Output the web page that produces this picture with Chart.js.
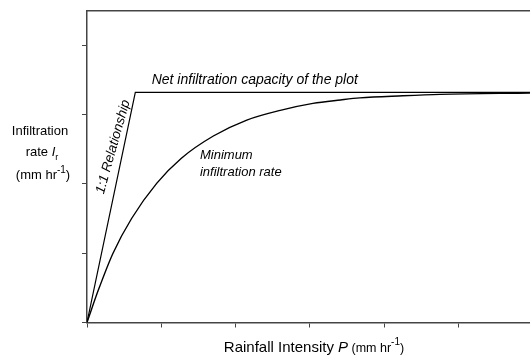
<!DOCTYPE html>
<html>
<head>
<meta charset="utf-8">
<script src="https://cdn.jsdelivr.net/npm/chart.js@4.4.1/dist/chart.umd.min.js"></script>
<style>
  body { margin: 0; background: #fff; }
  #grafico { display: block; }
</style>
</head>
<body>
<canvas id="grafico" width="530" height="358"></canvas>
<script>
// valori (unità arbitrarie)
const xTicks = [0, 1, 2, 3, 4, 5];
const yTicks = [0, 1, 2, 3, 4];
const xMax = 5.96;
const yMax = 4.5;

// retta 1:1 e capacità netta del plot
const capacitaX = [0, 0.65, 5.96];
const capacitaY = [0, 3.32, 3.32];

// curva del tasso minimo di infiltrazione
const minimaX = [0, 0.15, 0.35, 0.6, 0.94, 1.27, 1.70, 2.15, 2.60, 3.04, 3.41, 3.67, 4.25, 4.75, 5.96];
const minimaY = [0, 0.46, 1.00, 1.50, 2.01, 2.37, 2.69, 2.92, 3.06, 3.16, 3.21, 3.24, 3.27, 3.29, 3.31];

const FONT = '"Liberation Sans", Arial, sans-serif';
const assi = '#444';

function punti(xs, ys) {
    return xs.map((x, i) => ({ x: x, y: ys[i] }));
}

// disegna una riga di testo composta da pezzi con font/offset diversi
function scriviRiga(ctx, pezzi, x, y, allinea) {
    let larghezza = 0;
    pezzi.forEach(p => { ctx.font = p.font; larghezza += ctx.measureText(p.t).width; });
    let cx = allinea === 'center' ? x - larghezza / 2 : x;
    pezzi.forEach(p => {
        ctx.font = p.font;
        ctx.fillText(p.t, cx, y + (p.dy || 0));
        cx += ctx.measureText(p.t).width;
    });
}

const testi = {
    id: 'testi',
    afterDraw(chart) {
        const ctx = chart.ctx;
        const sx = chart.scales.x, sy = chart.scales.y;
        ctx.save();
        ctx.fillStyle = '#000';
        ctx.textBaseline = 'alphabetic';
        ctx.textAlign = 'left';

        // titolo asse y
        const n13 = '13px ' + FONT;
        scriviRiga(ctx, [{ t: 'Infiltration', font: n13 }], 40, 135, 'center');
        scriviRiga(ctx, [
            { t: 'rate ', font: n13 },
            { t: 'I', font: 'italic 13px ' + FONT },
            { t: 'r', font: '9px ' + FONT, dy: 4 }
        ], 42, 156, 'center');
        scriviRiga(ctx, [
            { t: '(mm hr', font: n13 },
            { t: '-1', font: '10px ' + FONT, dy: -6 },
            { t: ')', font: n13 }
        ], 43, 179, 'center');

        // titolo asse x
        scriviRiga(ctx, [
            { t: 'Rainfall Intensity ', font: '15px ' + FONT },
            { t: 'P', font: 'italic 15px ' + FONT },
            { t: ' (mm hr', font: '12.5px ' + FONT },
            { t: '-1', font: '10px ' + FONT, dy: -7 },
            { t: ')', font: '12.5px ' + FONT }
        ], 314, 352, 'center');

        // etichette delle curve
        ctx.font = 'italic 14px ' + FONT;
        ctx.fillText('Net infiltration capacity of the plot', sx.getPixelForValue(0.87), sy.getPixelForValue(3.44));
        ctx.font = 'italic 13px ' + FONT;
        ctx.fillText('Minimum', sx.getPixelForValue(1.52), sy.getPixelForValue(2.36));
        ctx.fillText('infiltration rate', sx.getPixelForValue(1.52), sy.getPixelForValue(2.12));

        // etichetta ruotata lungo la retta 1:1
        ctx.font = 'italic 13.5px ' + FONT;
        ctx.translate(sx.getPixelForValue(0.40), sy.getPixelForValue(2.52));
        ctx.rotate(-Math.atan2(95, 26.7));
        ctx.textAlign = 'center';
        ctx.fillText('1:1 Relationship', 0, 0);
        ctx.restore();
    }
};

const dataChart = {
    datasets: [{
        label: 'Capacità netta',
        data: punti(capacitaX, capacitaY),
        showLine: true,
        borderColor: '#000',
        borderWidth: 1.2,
        pointRadius: 0,
        tension: 0
    }, {
        label: 'Tasso minimo',
        data: punti(minimaX, minimaY),
        showLine: true,
        borderColor: '#000',
        borderWidth: 1.4,
        pointRadius: 0,
        cubicInterpolationMode: 'monotone'
    }]
};

const config = {
    type: 'scatter',
    data: dataChart,
    options: {
        responsive: false,
        animation: false,
        layout: { padding: 0 },
        plugins: {
            legend: { display: false },
            tooltip: { enabled: false }
        },
        scales: {
            x: {
                type: 'linear',
                min: 0,
                max: xMax,
                ticks: { display: false },
                afterBuildTicks: s => { s.ticks = xTicks.map(v => ({ value: v })); },
                afterFit: s => { s.height = 35.5; },
                grid: { drawOnChartArea: false, drawTicks: true, tickLength: 5, color: assi, lineWidth: 1 },
                border: { color: assi, width: 1.5 }
            },
            xTop: {
                type: 'linear',
                position: 'top',
                min: 0,
                max: xMax,
                ticks: { display: false },
                afterFit: s => { s.height = 10.5; },
                grid: { display: true, drawOnChartArea: false, drawTicks: false },
                border: { color: assi, width: 1.5 }
            },
            y: {
                type: 'linear',
                min: 0,
                max: yMax,
                ticks: { display: false },
                afterBuildTicks: s => { s.ticks = yTicks.map(v => ({ value: v })); },
                afterFit: s => { s.width = 87; },
                grid: { drawOnChartArea: false, drawTicks: true, tickLength: 5, color: assi, lineWidth: 1 },
                border: { color: assi, width: 1.5 }
            }
        }
    },
    plugins: [testi]
};

const chart = new Chart(document.getElementById('grafico'), config);
</script>
</body>
</html>
